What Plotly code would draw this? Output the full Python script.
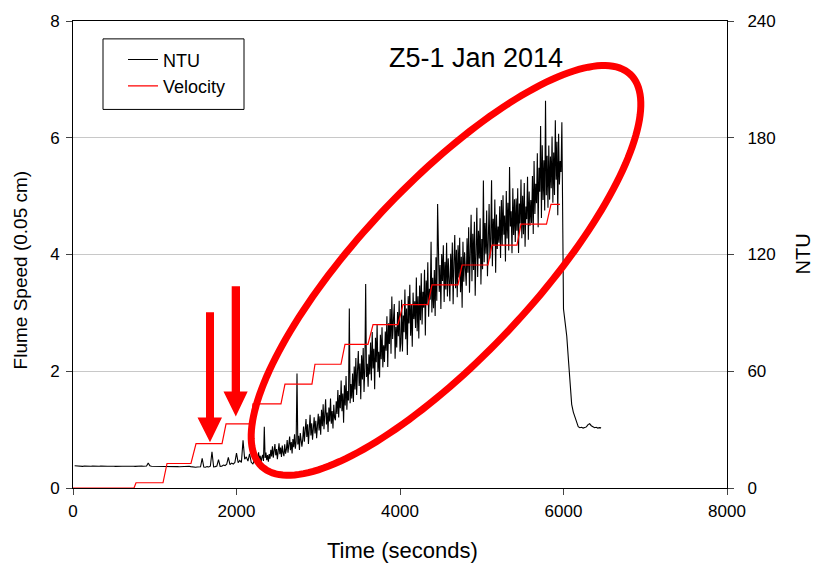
import math
import plotly.graph_objects as go

# ---------------- data ----------------
# Velocity (left axis, Flume Speed) step series
vel_time = [0, 746, 771, 1101, 1150, 1443, 1505, 1823, 1872, 2177, 2202, 2544, 2593, 2923,
            2960, 3278, 3327, 3608, 3670, 3975, 4037, 4342, 4391, 4709, 4758, 5076, 5125,
            5431, 5480, 5792, 5847, 5957]
vel_speed = [0, 0, 0.09, 0.09, 0.42, 0.42, 0.76, 0.76, 1.10, 1.10, 1.44, 1.44, 1.78, 1.78,
             2.12, 2.12, 2.46, 2.46, 2.80, 2.80, 3.14, 3.14, 3.48, 3.48, 3.82, 3.82, 4.16,
             4.16, 4.52, 4.52, 4.86, 4.86]

# NTU (right axis) - baseline part, sampled every 20 s from 20 s to 2200 s
ntu_base_start, ntu_base_step = 20, 20
ntu_base = [
    11.4, 11.3, 11.2, 11.3, 11.2, 11.1, 11.3, 11.2, 11.3, 11.2,
    11.2, 11.3, 11.2, 11.2, 11.1, 11.2, 11.3, 11.2, 11.2, 11.3,
    11.2, 11.2, 11.3, 11.2, 11.2, 11.1, 11.2, 11.2, 11.3, 11.2,
    11.2, 11.3, 11.2, 11.2, 11.2, 11.3, 11.2, 11.1, 11.2, 11.2,
    11.2, 11.3, 11.2, 11.2, 11.3, 12.9, 11.4, 11.2, 11.2, 11.3,
    11.2, 11.2, 11.2, 11.3, 11.2, 11.2, 11.2, 11.3, 11.2, 11.2,
    11.2, 11.1, 11.2, 11.0, 10.9, 11.0, 11.1, 11.2, 11.2, 11.3,
    11.2, 11.0, 10.8, 10.9, 10.7, 10.8, 11.0, 10.9, 15.2, 10.8,
    10.7, 11.0, 10.8, 11.2, 18.6, 10.9, 11.0, 11.3, 14.6, 11.1,
    11.2, 11.8, 11.5, 12.2, 15.8, 12.0, 12.8, 12.3, 13.1, 17.9,
    13.0, 14.2, 13.1, 24.5, 14.8, 16.0, 13.8, 17.6, 13.2, 12.4,
]
# NTU - erosion part, sampled every 10 s from 2210 s to 5990 s
ntu_rise_start, ntu_rise_step = 2210, 10
ntu_rise = [
    13.2, 16.0, 14.1, 17.8, 13.6, 15.2, 18.4, 14.0, 16.6, 12.8, 15.8, 17.0, 13.9, 31.5, 15.4, 18.2, 14.3, 16.9, 13.5, 17.4,
    15.0, 19.6, 16.2, 21.4, 15.6, 18.8, 22.6, 16.8, 20.0, 14.8, 19.2, 23.0, 17.4, 20.8, 15.9, 21.8, 18.0, 16.4, 22.4, 17.6,
    19.8, 24.6, 18.2, 22.8, 26.4, 19.4, 23.6, 17.8, 25.2, 21.0, 27.6, 20.2, 24.0, 58.8, 22.4, 26.8, 19.6, 28.2, 23.4, 21.2,
    25.0, 31.6, 23.8, 29.2, 35.4, 26.2, 32.8, 22.6, 30.4, 37.6, 27.0, 33.2, 24.8, 29.8, 36.4, 28.0, 34.6, 25.6, 31.0, 38.2,
    29.6, 36.8, 27.4, 40.2, 31.8, 43.0, 30.2, 37.4, 45.6, 32.6, 38.8, 28.8, 41.4, 34.2, 46.0, 33.0, 39.6, 30.6, 42.8, 36.0,
    34.8, 44.6, 38.0, 50.4, 36.2, 47.8, 41.0, 55.2, 39.4, 48.6, 33.6, 52.8, 42.4, 57.6, 40.2, 49.8, 45.0, 92.2, 43.6, 53.4,
    46.0, 58.8, 44.2, 62.4, 50.6, 66.8, 47.8, 60.2, 70.4, 52.4, 64.0, 45.6, 68.2, 55.8, 72.0, 49.4, 61.6, 104.8, 57.0, 63.8,
    52.0, 68.6, 58.4, 74.8, 55.2, 80.2, 61.4, 71.6, 50.8, 77.2, 64.6, 84.0, 59.6, 70.0, 56.8, 78.8, 66.2, 82.6, 62.0, 73.4,
    64.8, 80.4, 70.6, 88.2, 62.2, 84.6, 74.0, 92.0, 69.0, 98.4, 76.6, 86.4, 94.6, 66.4, 82.8, 72.2, 90.4, 78.0, 96.2, 70.0,
    74.4, 96.8, 70.2, 88.6, 80.0, 102.0, 76.4, 92.2, 68.4, 98.6, 84.6, 104.4, 78.2, 94.0, 72.6, 100.4, 86.8, 96.0, 82.2, 108.2,
    80.6, 98.6, 76.8, 104.0, 86.2, 110.4, 84.0, 100.8, 92.6, 112.2, 78.4, 106.6, 94.4, 116.0, 88.0, 102.4, 96.8, 126.6, 90.2, 108.0,
    92.4, 112.0, 88.4, 118.6, 96.2, 146.0, 122.4, 100.8, 114.6, 92.0, 120.2, 106.4, 124.8, 95.6, 116.2, 102.0, 126.0, 98.4, 118.0, 108.6,
    96.0, 120.4, 104.8, 126.2, 94.4, 116.0, 130.0, 102.6, 122.4, 98.0, 124.8, 108.2, 128.6, 100.6, 118.8, 92.6, 126.6, 106.0, 121.2, 112.4,
    104.0, 128.4, 110.6, 134.0, 100.4, 122.2, 140.4, 106.2, 130.6, 112.0, 136.8, 98.8, 126.6, 144.0, 108.4, 132.2, 118.0, 138.6, 104.6, 128.0,
    112.4, 158.0, 116.0, 136.2, 120.4, 142.6, 108.8, 132.8, 146.0, 118.0, 128.4, 158.2, 114.0, 138.4, 124.6, 148.2, 110.6, 140.6, 122.8, 134.4,
    126.0, 144.8, 118.2, 148.0, 124.6, 150.4, 130.2, 140.0, 116.4, 152.6, 128.2, 146.6, 122.0, 165.0, 134.4, 142.2, 120.6, 154.0, 130.0, 148.4,
    126.4, 148.8, 132.2, 154.0, 120.8, 146.2, 136.0, 158.6, 128.4, 150.2, 130.4, 156.8, 124.0, 144.6, 138.2, 160.0, 127.6, 152.4, 134.8, 148.0,
    136.2, 160.4, 130.6, 168.0, 140.8, 156.4, 146.4, 172.0, 134.0, 164.6, 152.2, 186.0, 138.8, 176.2, 148.0, 168.4, 142.6, 199.0, 150.4, 170.8,
    144.0, 176.0, 148.2, 170.4, 154.0, 180.6, 146.6, 172.4, 150.6, 189.0, 158.4, 178.0, 140.2, 182.0, 156.0, 168.0, 162.4, 188.0, 150.0,
]
# NTU - after the pump stops, sampled every 20 s from 6000 s to 6460 s
ntu_tail_start, ntu_tail_step = 6000, 20
ntu_tail = [92.0, 85.0, 78.0, 66.0, 55.0, 43.0, 39.0, 36.5, 34.0, 31.5, 31.0, 31.2,
            30.8, 31.0, 31.4, 32.6, 33.0, 32.0, 31.4, 31.0, 31.2, 30.8, 31.0, 30.9]

ntu_time = ([ntu_base_start + ntu_base_step * i for i in range(len(ntu_base))]
            + [ntu_rise_start + ntu_rise_step * i for i in range(len(ntu_rise))]
            + [ntu_tail_start + ntu_tail_step * i for i in range(len(ntu_tail))])
ntu_values = ntu_base + ntu_rise + ntu_tail

x_ticks = [0, 2000, 4000, 6000, 8000]
speed_ticks = [0, 2, 4, 6, 8]
ntu_ticks = [0, 60, 120, 180, 240]

# ---------------- layout geometry ----------------
W, H = 817, 566
L, R, T, B = 73, 90, 18, 78
PW, PH = W - L - R, H - T - B
FONT = "Arial, Liberation Sans, sans-serif"


def to_paper(px, py):
    return (px - L) / PW, (T + PH - py) / PH


def path_from_pixels(pts, close=True):
    s = ""
    for i, (px, py) in enumerate(pts):
        xx, yy = to_paper(px, py)
        s += ("M" if i == 0 else "L") + f"{xx:.5f},{yy:.5f} "
    if close:
        s += "Z"
    return s


# ellipse outline
cx, cy, a, b, phi = 446, 269, 270, 87, math.radians(47)
ell = []
for k in range(181):
    tau = 2 * math.pi * k / 180
    ex = cx + a * math.cos(tau) * math.cos(phi) - b * math.sin(tau) * math.sin(phi)
    ey = cy - (a * math.cos(tau) * math.sin(phi) + b * math.sin(tau) * math.cos(phi))
    ell.append((ex, ey))

arrow1 = [(206, 311), (214, 311), (214, 417), (222, 417), (210, 442), (197.5, 417), (206, 417)]
arrow2 = [(231.7, 285), (240, 285), (240, 391), (247.7, 391), (235.8, 416), (223.5, 391), (231.7, 391)]

lx0, ly0 = to_paper(103, 107)
lx1, ly1 = to_paper(244, 36)

fig = go.Figure()

fig.add_trace(go.Scatter(
    x=ntu_time, y=ntu_values, mode="lines", name="NTU",
    line=dict(color="black", width=1.1), yaxis="y"))
fig.add_trace(go.Scatter(
    x=vel_time, y=vel_speed, mode="lines", name="Velocity",
    line=dict(color="#ff0000", width=1.2), yaxis="y2"))

fig.update_layout(
    width=W, height=H,
    margin=dict(l=L, r=R, t=T, b=B, pad=0),
    paper_bgcolor="white", plot_bgcolor="white",
    font=dict(family=FONT, size=17, color="black"),
    showlegend=True,
    legend=dict(x=(123 - L) / PW, y=(T + PH - 38.5) / PH, xanchor="left", yanchor="top",
                borderwidth=0, bgcolor="rgba(0,0,0,0)", traceorder="normal",
                font=dict(size=18), tracegroupgap=0, itemwidth=30),
    xaxis=dict(range=[0, 8000], tickvals=x_ticks, ticks="outside", ticklen=6,
               showline=True, linecolor="black", linewidth=1, mirror=True,
               showgrid=False, zeroline=False, tickfont=dict(size=17),
               ticklabelstandoff=2),
    yaxis=dict(range=[0, 240], tickvals=ntu_ticks, side="right", ticks="outside", ticklen=6,
               showline=True, linecolor="black", linewidth=1,
               showgrid=True, gridcolor="#c8c8c8", gridwidth=1, zeroline=False,
               tickfont=dict(size=17), ticklabelstandoff=10),
    yaxis2=dict(range=[0, 8], tickvals=speed_ticks, side="left", overlaying="y",
                ticks="outside", ticklen=6, showline=True, linecolor="black", linewidth=1,
                showgrid=False, zeroline=False, tickfont=dict(size=17),
                ticklabelstandoff=3),
    shapes=[
        dict(type="rect", xref="paper", yref="paper", x0=lx0, y0=ly0, x1=lx1, y1=ly1,
             line=dict(color="black", width=1), fillcolor="rgba(0,0,0,0)", layer="above"),
        dict(type="path", xref="paper", yref="paper", path=path_from_pixels(ell),
             line=dict(color="#ff0000", width=7), fillcolor="rgba(0,0,0,0)", layer="above"),
        dict(type="path", xref="paper", yref="paper", path=path_from_pixels(arrow1),
             line=dict(color="#ff0000", width=0), fillcolor="#ff0000", layer="above"),
        dict(type="path", xref="paper", yref="paper", path=path_from_pixels(arrow2),
             line=dict(color="#ff0000", width=0), fillcolor="#ff0000", layer="above"),
    ],
    annotations=[
        dict(text="Z5-1 Jan 2014", xref="paper", yref="paper",
             x=to_paper(476, 0)[0], y=to_paper(0, 55)[1], xanchor="center", yanchor="middle",
             showarrow=False, font=dict(size=27)),
        dict(text="Time (seconds)", xref="paper", yref="paper",
             x=to_paper(402, 0)[0], y=to_paper(0, 551)[1], xanchor="center", yanchor="middle",
             showarrow=False, font=dict(size=22)),
        dict(text="Flume Speed (0.05 cm)", xref="paper", yref="paper", textangle=-90,
             x=to_paper(20, 0)[0], y=to_paper(0, 269)[1], xanchor="center", yanchor="middle",
             showarrow=False, font=dict(size=19)),
        dict(text="NTU", xref="paper", yref="paper", textangle=-90,
             x=to_paper(802, 0)[0], y=to_paper(0, 253)[1], xanchor="center", yanchor="middle",
             showarrow=False, font=dict(size=20)),
    ],
)

fig.write_html("out.html")
